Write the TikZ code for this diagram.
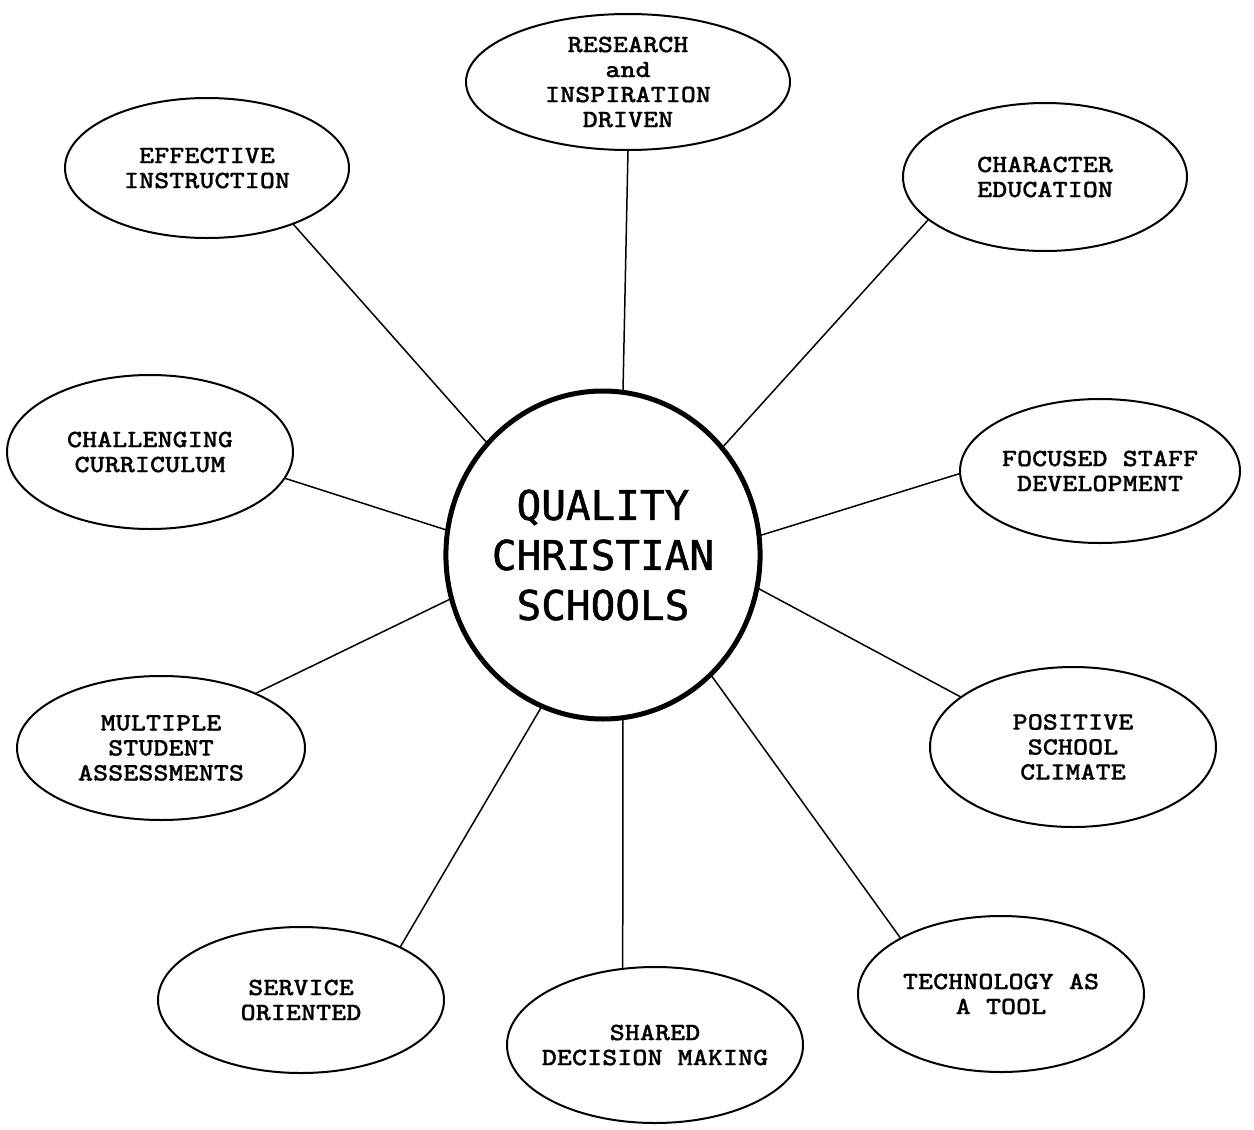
\documentclass[tikz,border=0pt]{standalone}
\usepackage{fontspec}
\newfontfamily\hubfont{DejaVu Sans Mono}[FakeBold=1.2]
\newfontfamily\topicfont{lmmonolt10-bold.otf}[FakeStretch=1.15,FakeBold=0.6]
\usetikzlibrary{shapes.geometric}
\tikzset{
  topic/.style={ellipse, draw, line width=2pt, inner sep=0pt, outer sep=0pt,
    align=center, font=\fontsize{25}{25}\selectfont\topicfont},
  hub/.style={ellipse, draw, line width=5pt, inner sep=0pt, outer sep=0pt,
    minimum width=306pt, minimum height=328pt, align=center,
    font=\fontsize{41}{50}\selectfont\hubfont},
  link/.style={line width=1.5pt}
}
\begin{document}
\begin{tikzpicture}[x=1pt,y=-1pt]
\useasboundingbox (0,0) rectangle (1254,1130);
\node[hub] (q) at (603,555) {QUALITY\\CHRISTIAN\\SCHOOLS};
\node[topic, minimum width=324pt, minimum height=136pt] (res) at (628,82) {RESEARCH\\and\\INSPIRATION\\DRIVEN};
\node[topic, minimum width=284pt, minimum height=140pt] (eff) at (207,168) {EFFECTIVE\\INSTRUCTION};
\node[topic, minimum width=284pt, minimum height=148pt] (cha) at (1045,177) {CHARACTER\\EDUCATION};
\node[topic, minimum width=286pt, minimum height=154pt] (cur) at (150,452) {CHALLENGING\\CURRICULUM};
\node[topic, minimum width=280pt, minimum height=144pt] (foc) at (1100,471) {FOCUSED STAFF\\DEVELOPMENT};
\node[topic, minimum width=288pt, minimum height=144pt] (mul) at (161,748) {MULTIPLE\\STUDENT\\ASSESSMENTS};
\node[topic, minimum width=286pt, minimum height=160pt] (pos) at (1073,747) {POSITIVE\\SCHOOL\\CLIMATE};
\node[topic, minimum width=286pt, minimum height=146pt] (ser) at (301,1000) {SERVICE\\ORIENTED};
\node[topic, inner xsep=-12pt, minimum width=296pt, minimum height=156pt] (sha) at (655,1045) {SHARED\\DECISION MAKING};
\node[topic, minimum width=286pt, minimum height=156pt] (tec) at (1001,994) {TECHNOLOGY AS\\A TOOL};
\draw[link] (res.-90) -- (q.83.5);
\draw[link] (eff.-33.4) -- (q.136.5);
\draw[link] (cha.200.5) -- (q.42.5);
\draw[link] (cur.-11.2) -- (q.171.7);
\draw[link] (foc.181) -- (q.7.4);
\draw[link] (mul.30) -- (q.196.2);
\draw[link] (pos.156.5) -- (q.-12.8);
\draw[link] (ser.28.6) -- (q.248);
\draw[link] (sha.113.6) -- (q.277);
\draw[link] (tec.151.2) -- (q.-48);
\end{tikzpicture}
\end{document}
